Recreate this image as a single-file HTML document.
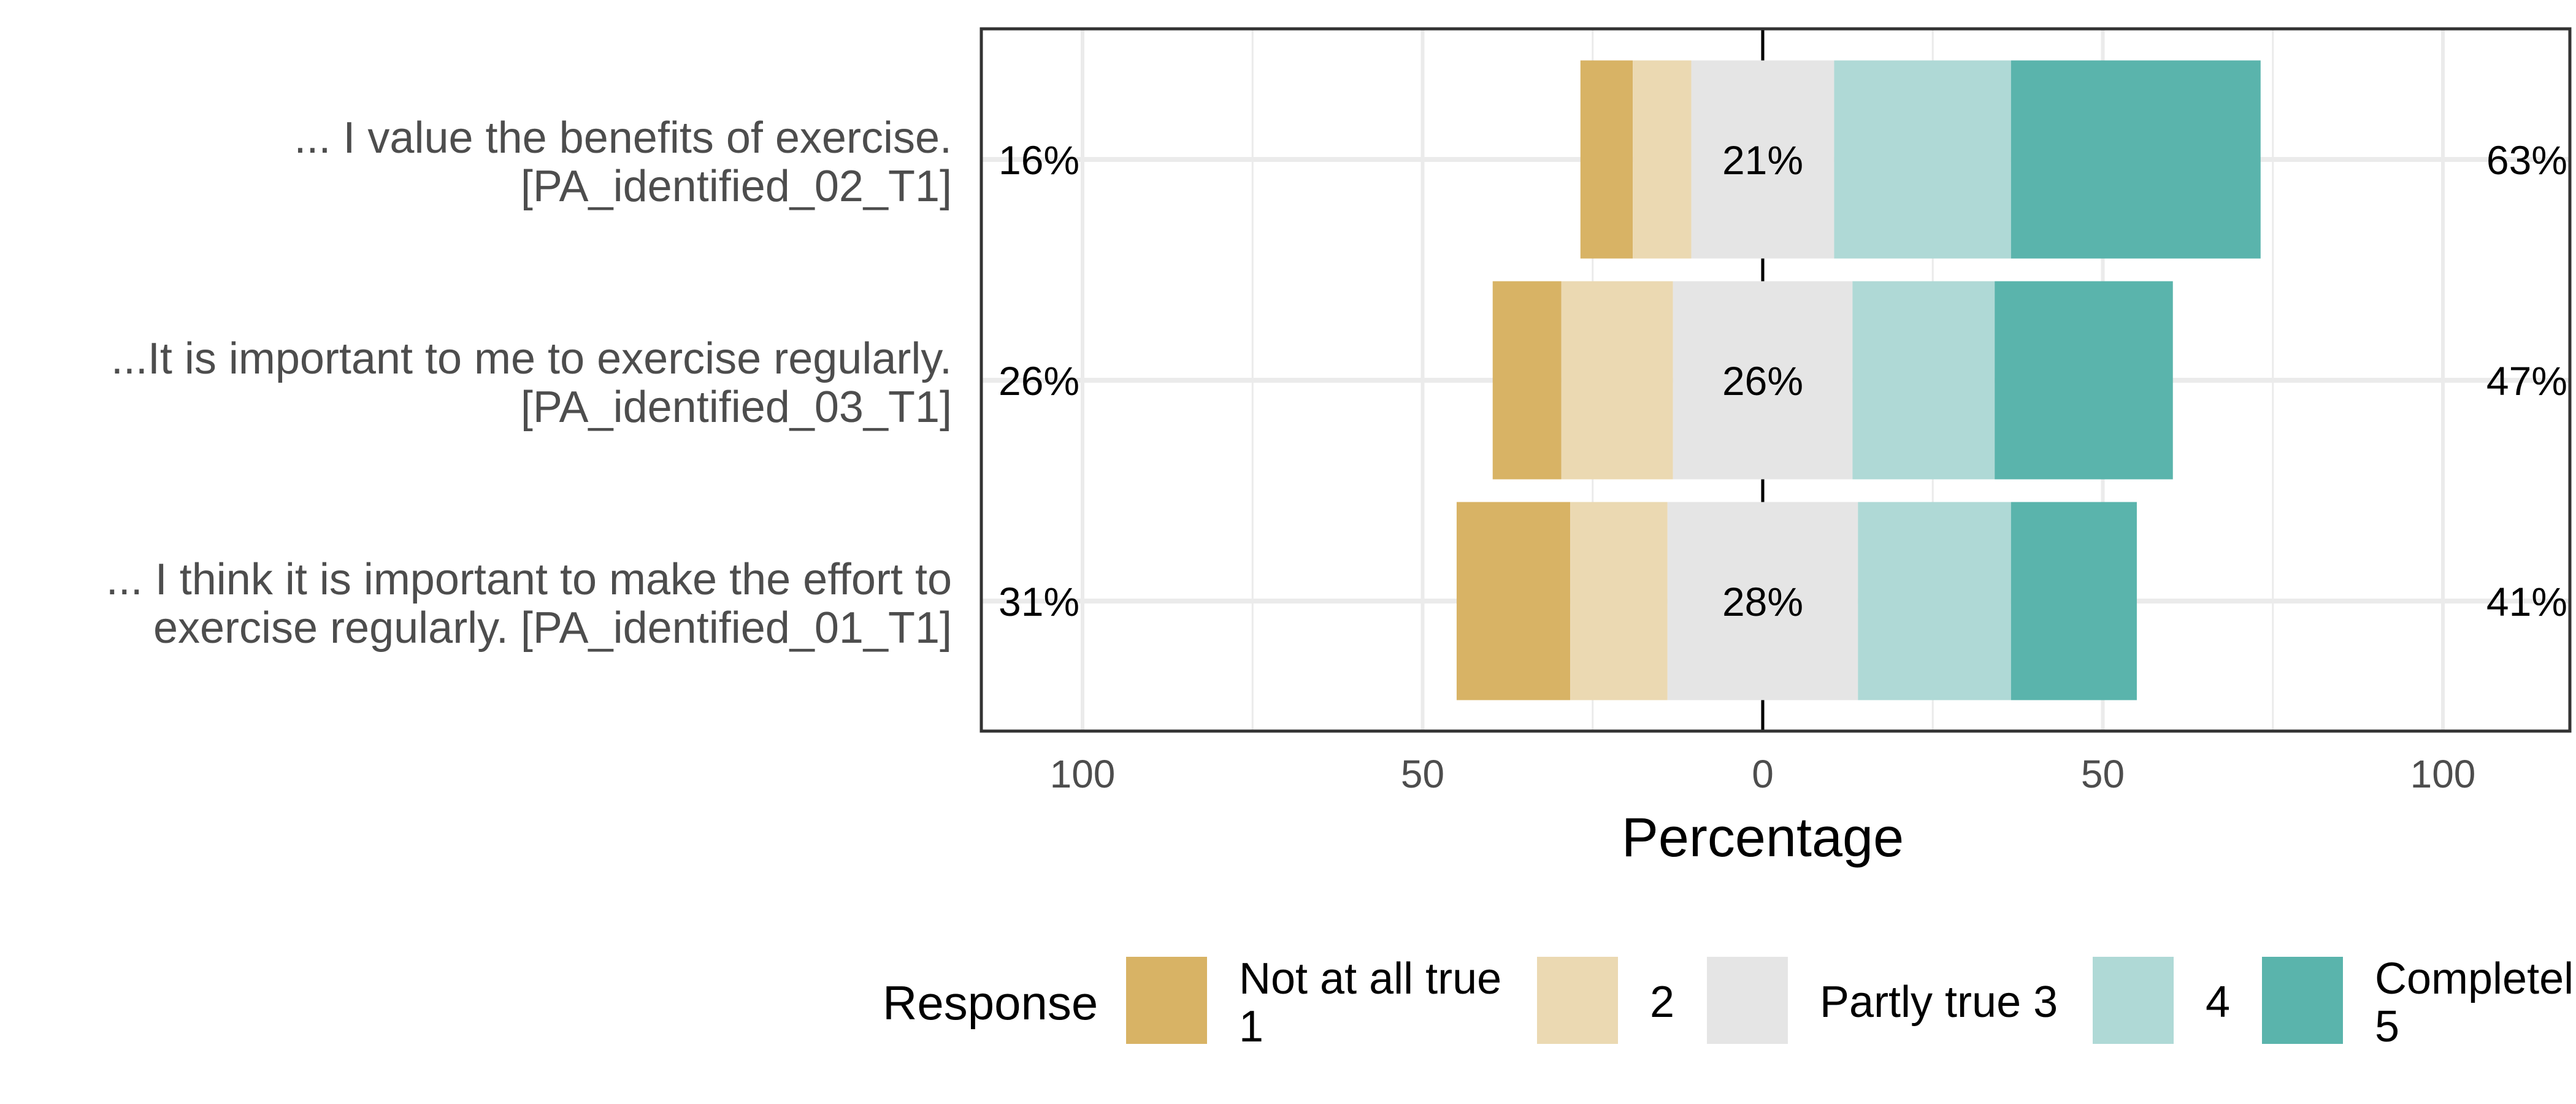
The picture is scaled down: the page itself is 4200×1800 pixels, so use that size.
<!DOCTYPE html>
<html><head><meta charset="utf-8"><style>
html,body{margin:0;padding:0;background:#fff;}
svg{display:block;font-family:"Liberation Sans",Arial,sans-serif;}
</style></head><body>
<svg id="chart" width="4200" height="1800" viewBox="0 0 4200 1800">
<rect x="0" y="0" width="4200" height="1800" fill="#fff"/>
<g id="grid"></g>
<g id="bars"></g>
<g id="labels"></g>
<rect x="1600" y="47" width="2590" height="1145" fill="none" stroke="#333" stroke-width="5"/>
<text x="2874" y="1396" font-size="90" text-anchor="middle" fill="#000">Percentage</text>
<g id="legend">
<text x="1439" y="1662" font-size="78" fill="#000">Response</text>
</g>
</svg>
<script>
const categories=[["... I value the benefits of exercise.","[PA_identified_02_T1]"],["...It is important to me to exercise regularly.","[PA_identified_03_T1]"],["... I think it is important to make the effort to","exercise regularly. [PA_identified_01_T1]"]];
const s1=[7.7,10.1,16.7];
const s2=[8.6,16.4,14.3];
const s3=[21,26.4,28];
const s4=[26,20.9,22.5];
const s5=[36.7,26.2,18.5];
const lowLabels=["16%","26%","31%"];
const midLabels=["21%","26%","28%"];
const highLabels=["63%","47%","41%"];
const ticks=[-100,-50,0,50,100];
const tickLabels=["100","50","0","50","100"];
const legendLabels=[["Not at all true","1"],["2"],["Partly true 3"],["4"],["Completel","5"]];
const colors=["#d8b365","#ebd9b2","#e5e5e5","#afd9d6","#5ab4ac"];

const NS="http://www.w3.org/2000/svg";
const x=v=>2874+v*11.09;
const rowY=i=>260+i*360;
const BH=323;
function mk(tag,attrs,parent){const e=document.createElementNS(NS,tag);for(const k in attrs)e.setAttribute(k,attrs[k]);parent.appendChild(e);return e;}
const grid=document.getElementById('grid'),bars=document.getElementById('bars'),labels=document.getElementById('labels'),legend=document.getElementById('legend');
[-75,-25,25,75].forEach(v=>{const l=mk('line',{x1:x(v),x2:x(v),y1:47,y2:1192,stroke:'#ebebeb','stroke-width':3},grid);

});
ticks.forEach((v,i)=>{const l=mk('line',{x1:x(v),x2:x(v),y1:47,y2:1192,stroke:'#ebebeb','stroke-width':6},grid);


const t=mk('text',{x:x(v),y:1284,'font-size':64,'text-anchor':'middle',fill:'#4d4d4d'},labels);t.textContent=tickLabels[i];

});
categories.forEach((c,i)=>{const l=mk('line',{x1:1600,x2:4190,y1:rowY(i),y2:rowY(i),stroke:'#ebebeb','stroke-width':8},grid);

});
const zl=mk('line',{x1:x(0),x2:x(0),y1:47,y2:1192,stroke:'#000','stroke-width':5},grid);


categories.forEach((c,i)=>{
 const vals=[s1[i],s2[i],s3[i],s4[i],s5[i]];
 let start=-(vals[0]+vals[1]+vals[2]/2);
 vals.forEach((v,j)=>{const r=mk('rect',{x:x(start),y:rowY(i)-BH/2,width:x(start+v)-x(start),height:BH,fill:colors[j]},bars);
 
 
 start+=v;});
 const lo=mk('text',{x:1628,y:rowY(i)+24,'font-size':66,fill:'#000'},labels);lo.textContent=lowLabels[i];
 
 
 const md=mk('text',{x:x(0),y:rowY(i)+24,'font-size':66,'text-anchor':'middle',fill:'#000'},labels);md.textContent=midLabels[i];
 
 
 const hi=mk('text',{x:4186,y:rowY(i)+24,'font-size':66,'text-anchor':'end',fill:'#000'},labels);hi.textContent=highLabels[i];
 
 
 c.forEach((line,k)=>{const t=mk('text',{x:1552,y:rowY(i)-11+k*79,'font-size':72,'text-anchor':'end',fill:'#4d4d4d'},labels);t.textContent=line;
 
 });
});
const keyX=[1836,2506,2783,3412,3688];
legendLabels.forEach((lab,j)=>{
 const r=mk('rect',{x:keyX[j],y:1560,width:132,height:142,fill:colors[j]},legend);
 
 
 const tx=keyX[j]+184;
 if(lab.length===2){lab.forEach((s,k)=>{const t=mk('text',{x:tx,y:1620+k*78,'font-size':72,fill:'#000'},legend);t.textContent=s;
  
  });}
 else{const t=mk('text',{x:tx,y:1658,'font-size':72,fill:'#000'},legend);t.textContent=lab[0];
  
  }
});
</script>
</body></html>
